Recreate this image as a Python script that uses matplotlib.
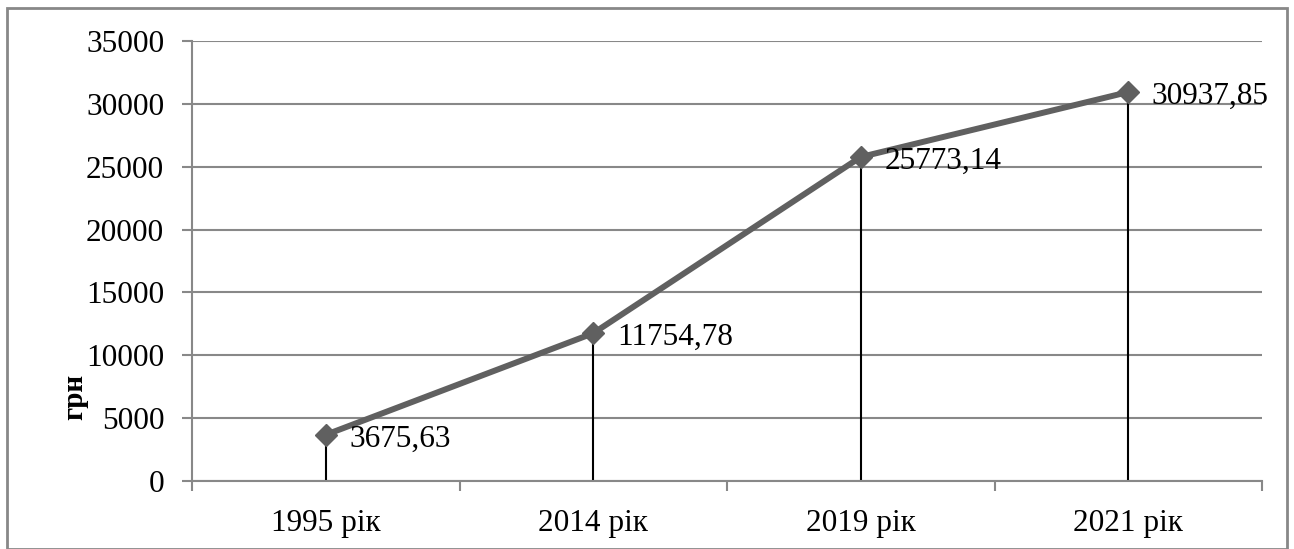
import matplotlib.pyplot as plt
from matplotlib.patches import Rectangle
import numpy as np

categories = ["1995 рік", "2014 рік", "2019 рік", "2021 рік"]
values = [3675.63, 11754.78, 25773.14, 30937.85]
labels = ["3675,63", "11754,78", "25773,14", "30937,85"]

plt.rcParams['font.family'] = ['Liberation Serif', 'DejaVu Serif']

fig = plt.figure(figsize=(12.94, 5.49), dpi=100)
ax = fig.add_axes([192/1294, 68/549, 1070/1294, 440/549])

x = np.arange(len(categories))
ax.vlines(x, 0, values, color='black', linewidth=1.5, zorder=2)
ax.plot(x, values, color='#606060', linewidth=4.3, marker='D', markersize=11.5,
        markerfacecolor='#606060', markeredgecolor='#606060', zorder=3)
for xi, v, lab in zip(x, values, labels):
    ax.annotate(lab, (xi, v), xytext=(17, -3), textcoords='offset points',
                ha='left', va='center', fontsize=22.5, zorder=4)

ax.set_xlim(-0.5, 3.5)
ax.set_ylim(0, 35000)
ax.set_yticks(np.arange(0, 35001, 5000))
ax.set_xticks(x)
ax.set_xticklabels(categories)
ax.set_xticks(np.arange(-0.5, 3.6, 1), minor=True)
ax.tick_params(axis='x', which='major', length=0, pad=20, labelsize=22.5)
ax.tick_params(axis='x', which='minor', length=7, width=1.5, color='#888888', direction='out')
ax.tick_params(axis='y', length=7, width=1.5, color='#888888', labelsize=22.5, pad=13)
ax.grid(axis='y', color='#888888', linewidth=1.5)
ax.set_axisbelow(True)
for s in ['top', 'right']:
    ax.spines[s].set_visible(False)
for s in ['left', 'bottom']:
    ax.spines[s].set_color('#888888')
    ax.spines[s].set_linewidth(1.5)

ax.set_ylabel("грн", fontsize=21, fontweight='bold')
ax.yaxis.set_label_coords(-0.097, 0.19)

fig.patches.append(Rectangle((7/1294, 0), 1280/1294, 541/549, transform=fig.transFigure,
                             fill=False, edgecolor='#888888', linewidth=2))

fig.savefig("out.png", dpi=100)
